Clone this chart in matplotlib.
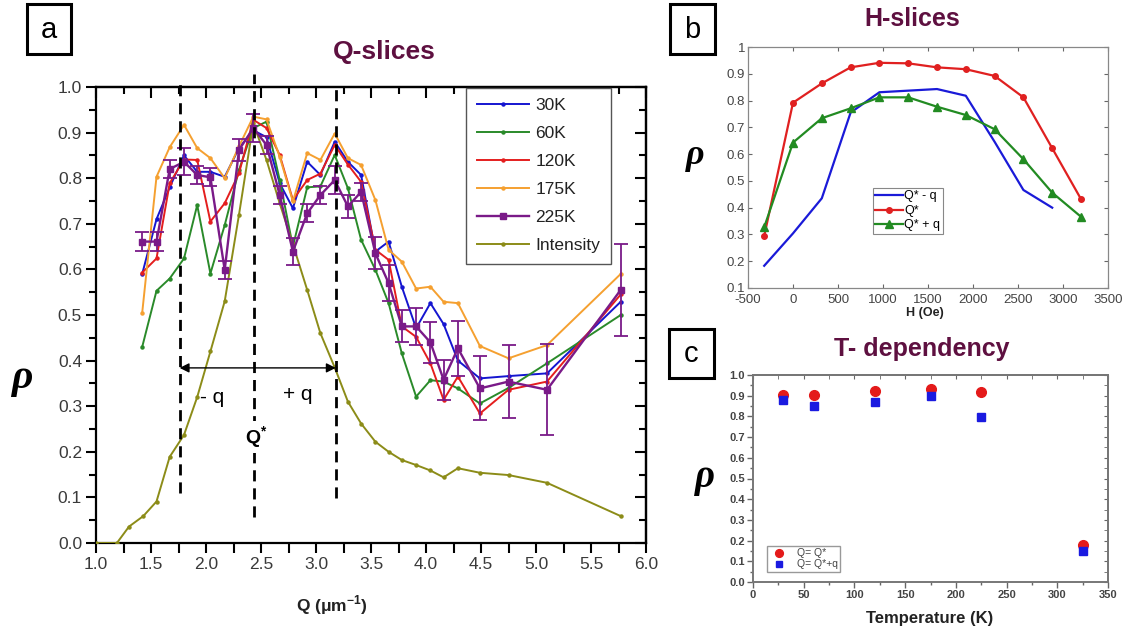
import matplotlib
matplotlib.use('Agg')
import matplotlib.pyplot as plt
from matplotlib.patches import Rectangle
from matplotlib.ticker import MultipleLocator, FormatStrFormatter

plt.rcParams['font.family'] = ['Liberation Sans', 'DejaVu Sans']
plt.rcParams['mathtext.fontset'] = 'custom'
plt.rcParams['mathtext.rm'] = 'Liberation Sans'
plt.rcParams['mathtext.bf'] = 'Liberation Sans:bold'
plt.rcParams['axes.unicode_minus'] = False

# ---------------- Panel a data (Q-slices) ----------------
Q = [1.42, 1.55, 1.67, 1.80, 1.92, 2.04, 2.17, 2.30, 2.43, 2.55, 2.67, 2.79, 2.92, 3.04,
     3.17, 3.29, 3.41, 3.54, 3.66, 3.78, 3.91, 4.04, 4.16, 4.29, 4.49, 4.75, 5.10, 5.77]
rho_30K = [0.59, 0.71, 0.78, 0.85, 0.814, 0.814, 0.803, 0.866, 0.905, 0.89, 0.789, 0.734, 0.836, 0.807,
           0.88, 0.836, 0.807, 0.639, 0.661, 0.562, 0.471, 0.526, 0.48, 0.40, 0.361, 0.366, 0.372, 0.529]
rho_60K = [0.43, 0.553, 0.58, 0.624, 0.741, 0.591, 0.697, 0.818, 0.91, 0.924, 0.796, 0.65, 0.78, 0.782,
           0.851, 0.778, 0.665, 0.599, 0.526, 0.416, 0.321, 0.357, 0.354, 0.339, 0.306, 0.34, 0.394, 0.50]
rho_120K = [0.593, 0.624, 0.789, 0.841, 0.84, 0.705, 0.745, 0.811, 0.928, 0.91, 0.851, 0.752, 0.796, 0.81,
            0.873, 0.83, 0.792, 0.643, 0.621, 0.475, 0.452, 0.394, 0.314, 0.365, 0.284, 0.336, 0.354, 0.545]
rho_175K = [0.505, 0.803, 0.868, 0.917, 0.866, 0.844, 0.80, 0.87, 0.935, 0.929, 0.847, 0.749, 0.855, 0.84,
            0.898, 0.844, 0.829, 0.752, 0.643, 0.617, 0.558, 0.562, 0.529, 0.526, 0.432, 0.405, 0.434, 0.59]
rho_225K = [0.661, 0.661, 0.82, 0.836, 0.807, 0.802, 0.599, 0.862, 0.91, 0.873, 0.763, 0.639, 0.723, 0.763,
            0.796, 0.738, 0.77, 0.635, 0.57, 0.475, 0.475, 0.44, 0.358, 0.427, 0.339, 0.354, 0.336, 0.555]
err_225K = [0.02, 0.02, 0.02, 0.03, 0.02, 0.02, 0.02, 0.025, 0.03, 0.02, 0.02, 0.03, 0.02, 0.02,
            0.03, 0.025, 0.02, 0.035, 0.04, 0.035, 0.04, 0.045, 0.044, 0.06, 0.07, 0.08, 0.10, 0.10]
Q_int = [1.0, 1.19, 1.30, 1.43, 1.55, 1.67, 1.80, 1.92, 2.04, 2.17, 2.30, 2.43, 2.55, 2.67, 2.79, 2.92,
         3.04, 3.17, 3.29, 3.41, 3.54, 3.66, 3.78, 3.91, 4.04, 4.16, 4.29, 4.49, 4.75, 5.10, 5.77]
intensity = [0.0, 0.0, 0.036, 0.059, 0.091, 0.189, 0.237, 0.32, 0.42, 0.53, 0.72, 0.92, 0.84, 0.745, 0.655,
             0.555, 0.46, 0.385, 0.31, 0.262, 0.222, 0.20, 0.182, 0.171, 0.159, 0.144, 0.164, 0.154,
             0.149, 0.132, 0.059]
series_labels = ['30K', '60K', '120K', '175K', '225K', 'Intensity']
Q_lines = [1.76, 2.44, 3.18]   # Q*-q, Q*, Q*+q

# ---------------- Panel b data (H-slices) ----------------
H_field = [-320, 0, 320, 640, 960, 1280, 1600, 1920, 2240, 2560, 2880, 3200]
rho_Qm = [0.183, 0.304, 0.435, 0.755, 0.831, 0.837, 0.843, 0.818, 0.646, 0.466, 0.40]
rho_Q0 = [0.294, 0.792, 0.864, 0.924, 0.941, 0.939, 0.924, 0.917, 0.892, 0.812, 0.622, 0.432]
rho_Qp = [0.327, 0.643, 0.734, 0.771, 0.812, 0.812, 0.777, 0.746, 0.693, 0.581, 0.456, 0.366]
b_labels = ['Q* - q', 'Q*', 'Q* + q']

# ---------------- Panel c data (T-dependency) ----------------
T = [30, 60, 120, 175, 225, 325]
rho_T_Q0 = [0.903, 0.903, 0.924, 0.932, 0.916, 0.179]
rho_T_Qp = [0.879, 0.85, 0.87, 0.897, 0.796, 0.15]
c_labels = ['Q= Q*', 'Q= Q*+q']

# ---------------- styling ----------------
W, Hh = 1128, 636
fig = plt.figure(figsize=(W / 100, Hh / 100), dpi=100)
maroon = '#5e1040'
tickc = '#3a3a3a'


def ax_px(l, t, r, b):
    return fig.add_axes([l / W, 1 - b / Hh, (r - l) / W, (b - t) / Hh])


def px_text(x, y, s, **kw):
    fig.text(x / W, 1 - y / Hh, s, ha='center', va='center', **kw)


def box_letter(x0, y0, x1, y1, s):
    fig.add_artist(Rectangle((x0 / W, 1 - y1 / Hh), (x1 - x0) / W, (y1 - y0) / Hh,
                             transform=fig.transFigure, fill=False, lw=2.2, ec='black'))
    px_text((x0 + x1) / 2, (y0 + y1) / 2 + 1, s, fontsize=21, color='black')


# ================= Panel a =================
axa = ax_px(96, 87, 646, 543)
cols = ['#1515d0', '#2a8a2a', '#e41e1e', '#f5a030', '#7a1a88', '#8c8c18']
rhos = [rho_30K, rho_60K, rho_120K, rho_175K]
for vals, col, lab in zip(rhos, cols[:4], series_labels[:4]):
    axa.plot(Q, vals, color=col, lw=1.4, marker='o', ms=2.2, label=lab, zorder=3)
axa.errorbar(Q, rho_225K, yerr=err_225K, fmt='none', ecolor=cols[4], elinewidth=1.3,
             capsize=5, capthick=1.3, zorder=4)
axa.plot(Q, rho_225K, color=cols[4], lw=1.7, marker='s', ms=4.5, label=series_labels[4], zorder=5)
axa.plot(Q_int, intensity, color=cols[5], lw=1.4, marker='o', ms=2.2, label=series_labels[5], zorder=3)

axa.set_xlim(1.0, 6.0)
axa.set_ylim(0.0, 1.0)
axa.xaxis.set_major_locator(MultipleLocator(0.5))
axa.xaxis.set_minor_locator(MultipleLocator(0.25))
axa.yaxis.set_major_locator(MultipleLocator(0.1))
axa.yaxis.set_minor_locator(MultipleLocator(0.05))
axa.xaxis.set_major_formatter(FormatStrFormatter('%.1f'))
axa.yaxis.set_major_formatter(FormatStrFormatter('%.1f'))
axa.tick_params(which='major', direction='out', length=7, width=1.5, labelsize=12.5,
                labelcolor=tickc, pad=3)
axa.tick_params(which='minor', direction='out', length=5, width=1.5)
axa.tick_params(axis='x', which='minor', length=7)
for sp in axa.spines.values():
    sp.set_linewidth(1.6)
top = axa.secondary_xaxis('top')
top.xaxis.set_major_locator(MultipleLocator(0.5))
top.xaxis.set_minor_locator(MultipleLocator(0.25))
top.tick_params(axis='x', which='both', direction='in', labeltop=False, width=1.5)
top.tick_params(axis='x', which='major', length=8)
top.tick_params(axis='x', which='minor', length=5)
right = axa.secondary_yaxis('right')
right.yaxis.set_major_locator(MultipleLocator(0.1))
right.yaxis.set_minor_locator(MultipleLocator(0.05))
right.tick_params(axis='y', which='both', direction='in', labelright=False, width=1.5)
right.tick_params(axis='y', which='major', length=8)
right.tick_params(axis='y', which='minor', length=5)
for sec in (top, right):
    for sp in sec.spines.values():
        sp.set_linewidth(1.6)

leg = axa.legend(loc='upper left', bbox_to_anchor=(0.673, 0.998), fontsize=12.5, frameon=True,
                 fancybox=False, edgecolor='#555555', framealpha=1, borderaxespad=0,
                 handlelength=3.0, labelspacing=0.74, numpoints=1, borderpad=0.6, handletextpad=0.4)
leg.get_frame().set_linewidth(1.0)
for t in leg.get_texts():
    t.set_color('#222222')

# dashed guide lines
ylims = [(0.11, 1.02), (0.057, 1.028), (0.099, 1.003)]
for qv, (y0, y1) in zip(Q_lines, ylims):
    axa.plot([qv, qv], [y0, y1], transform=axa.get_xaxis_transform(), color='black', lw=2.0,
             ls=(0, (4, 2.5)), clip_on=False, zorder=6)
y_arrow = 0.384
axa.annotate('', xy=(Q_lines[0], y_arrow), xytext=(Q_lines[1], y_arrow),
             arrowprops=dict(arrowstyle='-|>', color='black', lw=1.0, mutation_scale=14,
                             shrinkA=0, shrinkB=0), zorder=7)
axa.annotate('', xy=(Q_lines[2], y_arrow), xytext=(Q_lines[1], y_arrow),
             arrowprops=dict(arrowstyle='-|>', color='black', lw=1.0, mutation_scale=14,
                             shrinkA=0, shrinkB=0), zorder=7)
axa.text(2.06, 0.32, '- q', fontsize=15, ha='center', va='center', color='black', zorder=8)
axa.text(2.83, 0.325, '+ q', fontsize=15, ha='center', va='center', color='black', zorder=8)
axa.text(2.455, 0.232, r'Q$^{\mathbf{*}}$', fontsize=14, fontweight='bold', ha='center', va='center',
         color='black', zorder=8, bbox=dict(fc='white', ec='none', pad=2))

px_text(332, 605, r'Q ($\mathbf{\mu}$m$^{\mathbf{-1}}$)', fontsize=12.5, fontweight='bold', color='#222222')
px_text(384, 52, 'Q-slices', fontsize=19, fontweight='bold', color=maroon)
px_text(22, 378, 'ρ', fontsize=30, fontweight='bold', style='italic', family='Liberation Serif')
box_letter(27, 4, 71, 54, 'a')

# ================= Panel b =================
axb = ax_px(748, 47, 1108, 288)
axb.plot(H_field[:len(rho_Qm)], rho_Qm, color='#1a1ad8', lw=1.6, label=b_labels[0])
axb.plot(H_field, rho_Q0, color='#e02020', lw=1.6, marker='o', ms=4, label=b_labels[1])
axb.plot(H_field, rho_Qp, color='#228b22', lw=1.6, marker='^', ms=5.5, label=b_labels[2])
axb.set_xlim(-500, 3500)
axb.set_ylim(0.1, 1.0)
axb.xaxis.set_major_locator(MultipleLocator(500))
axb.yaxis.set_major_locator(MultipleLocator(0.1))
axb.yaxis.set_major_formatter(FormatStrFormatter('%g'))
axb.tick_params(direction='in', length=3, width=0.8, top=True, right=True, labelsize=9.5,
                labelcolor='#444444', color='#666666', pad=2)
axb.tick_params(axis='x', pad=4.5)
for sp in axb.spines.values():
    sp.set_linewidth(0.9)
    sp.set_color('#888888')
legb = axb.legend(loc='upper left', bbox_to_anchor=(0.347, 0.415), fontsize=9, frameon=True,
                  fancybox=False, edgecolor='#888888', framealpha=1, borderaxespad=0,
                  handlelength=2.2, labelspacing=0.2, borderpad=0.2, handletextpad=0.1)
legb.get_frame().set_linewidth(0.8)
px_text(912, 19, 'H-slices', fontsize=18, fontweight='bold', color=maroon)
px_text(925, 313, 'H (Oe)', fontsize=9, fontweight='bold', color='#222222')
px_text(695, 156, 'ρ', fontsize=26, fontweight='bold', style='italic', family='Liberation Serif')
box_letter(670, 4, 715, 54, 'b')

# ================= Panel c =================
axc = ax_px(753, 375, 1108, 582)
axc.plot(T, rho_T_Q0, ls='none', marker='o', ms=7, color='#e41a1a', label=c_labels[0], zorder=3)
axc.plot(T, rho_T_Qp, ls='none', marker='s', ms=6, color='#1a1ae0', label=c_labels[1], zorder=4)
axc.set_xlim(0, 350)
axc.set_ylim(0.0, 1.0)
axc.xaxis.set_major_locator(MultipleLocator(50))
axc.xaxis.set_minor_locator(MultipleLocator(25))
axc.yaxis.set_major_locator(MultipleLocator(0.1))
axc.yaxis.set_minor_locator(MultipleLocator(0.05))
axc.yaxis.set_major_formatter(FormatStrFormatter('%.1f'))
axc.tick_params(which='major', direction='out', length=4, width=1.0, labelsize=8, labelcolor='#444444',
                color='#666666', pad=2)
axc.tick_params(which='minor', direction='out', length=2.5, width=1.0, color='#666666')
for lab in axc.get_xticklabels() + axc.get_yticklabels():
    lab.set_fontweight('bold')
for sp in axc.spines.values():
    sp.set_linewidth(1.4)
    sp.set_color('#777777')
topc = axc.secondary_xaxis('top')
topc.xaxis.set_major_locator(MultipleLocator(50))
topc.xaxis.set_minor_locator(MultipleLocator(25))
topc.tick_params(axis='x', which='both', direction='in', labeltop=False, length=3, color='#666666')
rightc = axc.secondary_yaxis('right')
rightc.yaxis.set_major_locator(MultipleLocator(0.1))
rightc.yaxis.set_minor_locator(MultipleLocator(0.05))
rightc.tick_params(axis='y', which='both', direction='in', labelright=False, length=3, color='#666666')
for sec in (topc, rightc):
    for sp in sec.spines.values():
        sp.set_linewidth(1.4)
        sp.set_color('#777777')
legc = axc.legend(loc='lower left', bbox_to_anchor=(0.04, 0.048), fontsize=7.5, frameon=True,
                  fancybox=False, edgecolor='#999999', framealpha=1, borderaxespad=0,
                  handlelength=1.8, labelspacing=0.1, borderpad=0.25, handletextpad=0.8, numpoints=1,
                  markerscale=0.8)
for t in legc.get_texts():
    t.set_color('#444444')
px_text(922, 349, 'T- dependency', fontsize=18, fontweight='bold', color=maroon)
px_text(930, 618, 'Temperature (K)', fontsize=12, fontweight='bold', color='#222222')
px_text(705, 478, 'ρ', fontsize=28, fontweight='bold', style='italic', family='Liberation Serif')
box_letter(669, 329, 714, 378, 'c')

fig.savefig('out.png', dpi=100)
